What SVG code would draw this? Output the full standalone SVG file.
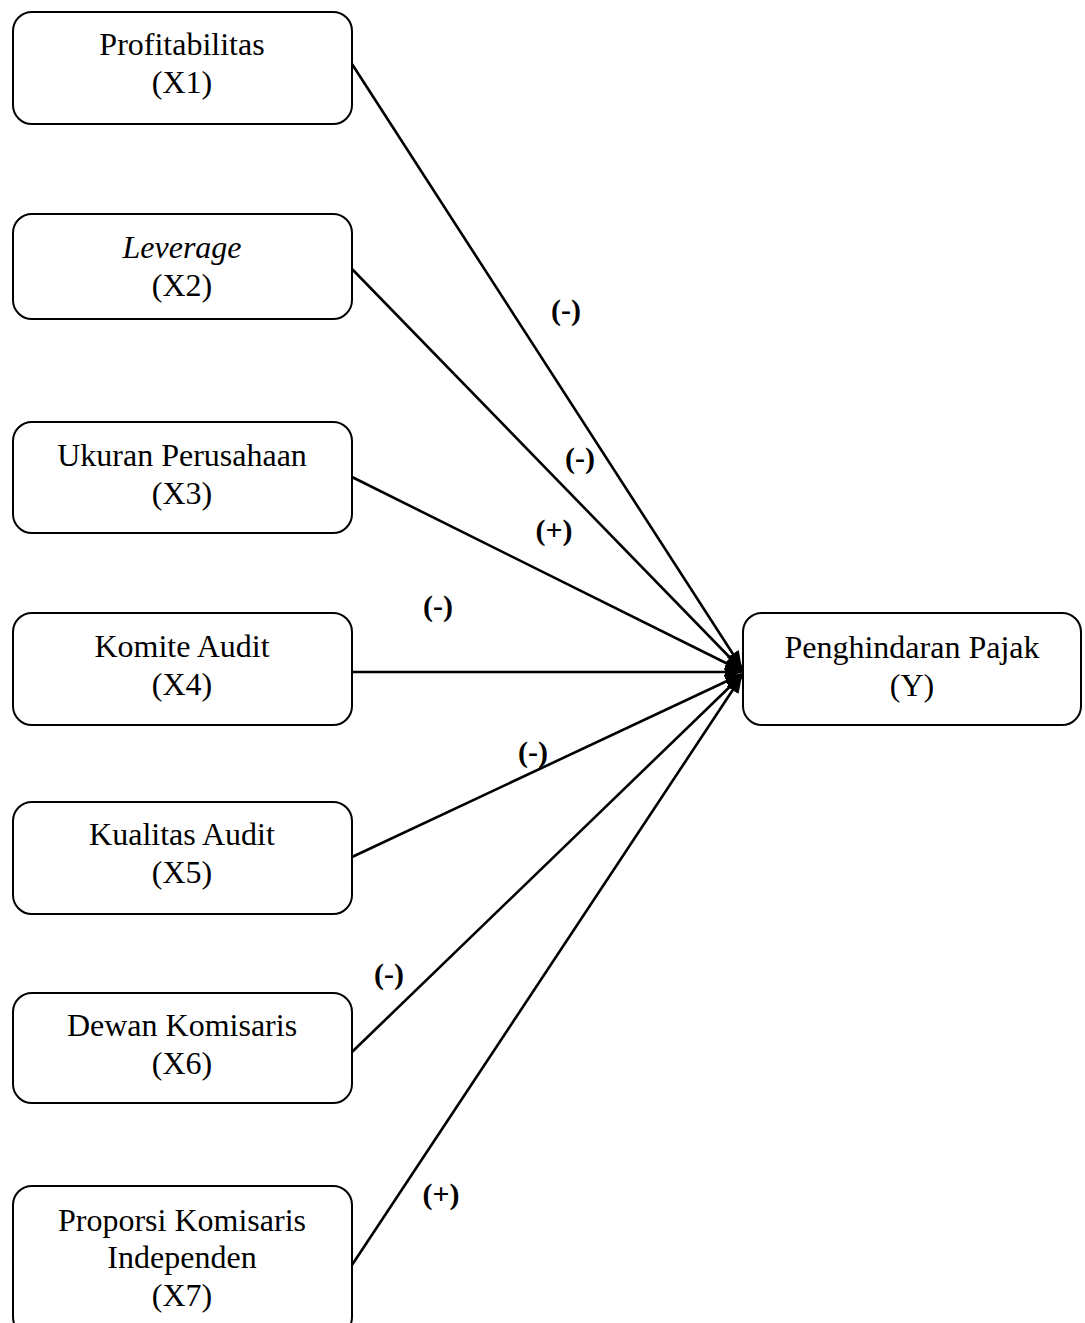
<svg xmlns="http://www.w3.org/2000/svg" width="1085" height="1323" viewBox="0 0 1085 1323">
<style>
.box{fill:#fff;stroke:#000;stroke-width:2}
.t{font-family:"Liberation Serif","Times New Roman",serif;font-size:32px;fill:#000;text-anchor:middle}
.lbl{font-family:"Liberation Serif","Times New Roman",serif;font-size:30px;font-weight:bold;fill:#000;text-anchor:middle}
.edge{stroke:#000;stroke-width:2.6;fill:none;marker-end:url(#arr)}
</style>
<defs>
<marker id="arr" markerUnits="userSpaceOnUse" markerWidth="18" markerHeight="14" refX="17" refY="7" orient="auto">
<path d="M0,0 L17,7 L0,14 z" fill="#000"/>
</marker>
</defs>
<rect width="1085" height="1323" fill="#fff"/>
<g id="connectors">
<line class="edge" x1="352" y1="64" x2="742" y2="668"/>
<line class="edge" x1="352" y1="269" x2="742" y2="670"/>
<line class="edge" x1="352" y1="477" x2="742" y2="671"/>
<line class="edge" x1="352" y1="672" x2="742" y2="672"/>
<line class="edge" x1="352" y1="857" x2="742" y2="674"/>
<line class="edge" x1="352" y1="1052" x2="742" y2="675"/>
<line class="edge" x1="352" y1="1265" x2="742" y2="676"/>
</g>
<g id="labels">
<text class="lbl" x="566" y="320">(-)</text>
<text class="lbl" x="580" y="468">(-)</text>
<text class="lbl" x="554" y="540">(+)</text>
<text class="lbl" x="438" y="616">(-)</text>
<text class="lbl" x="533" y="762">(-)</text>
<text class="lbl" x="389" y="984">(-)</text>
<text class="lbl" x="441" y="1204">(+)</text>
</g>
<g id="x1">
<rect class="box" x="13" y="12" width="339" height="112" rx="19"/>
<text class="t" x="182" y="55">Profitabilitas</text>
<text class="t" x="182" y="93">(X1)</text>
</g>
<g id="x2">
<rect class="box" x="13" y="214" width="339" height="105" rx="19"/>
<text class="t" x="182" y="258" font-style="italic">Leverage</text>
<text class="t" x="182" y="296">(X2)</text>
</g>
<g id="x3">
<rect class="box" x="13" y="422" width="339" height="111" rx="19"/>
<text class="t" x="182" y="466">Ukuran Perusahaan</text>
<text class="t" x="182" y="504">(X3)</text>
</g>
<g id="x4">
<rect class="box" x="13" y="613" width="339" height="112" rx="19"/>
<text class="t" x="182" y="657">Komite Audit</text>
<text class="t" x="182" y="695">(X4)</text>
</g>
<g id="x5">
<rect class="box" x="13" y="802" width="339" height="112" rx="19"/>
<text class="t" x="182" y="845">Kualitas Audit</text>
<text class="t" x="182" y="883">(X5)</text>
</g>
<g id="x6">
<rect class="box" x="13" y="993" width="339" height="110" rx="19"/>
<text class="t" x="182" y="1036">Dewan Komisaris</text>
<text class="t" x="182" y="1074">(X6)</text>
</g>
<g id="x7">
<rect class="box" x="13" y="1186" width="339" height="150" rx="19"/>
<text class="t" x="182" y="1231">Proporsi Komisaris</text>
<text class="t" x="182" y="1268">Independen</text>
<text class="t" x="182" y="1306">(X7)</text>
</g>
<g id="y">
<rect class="box" x="743" y="613" width="338" height="112" rx="19"/>
<text class="t" x="912" y="658">Penghindaran Pajak</text>
<text class="t" x="912" y="696">(Y)</text>
</g>
</svg>
